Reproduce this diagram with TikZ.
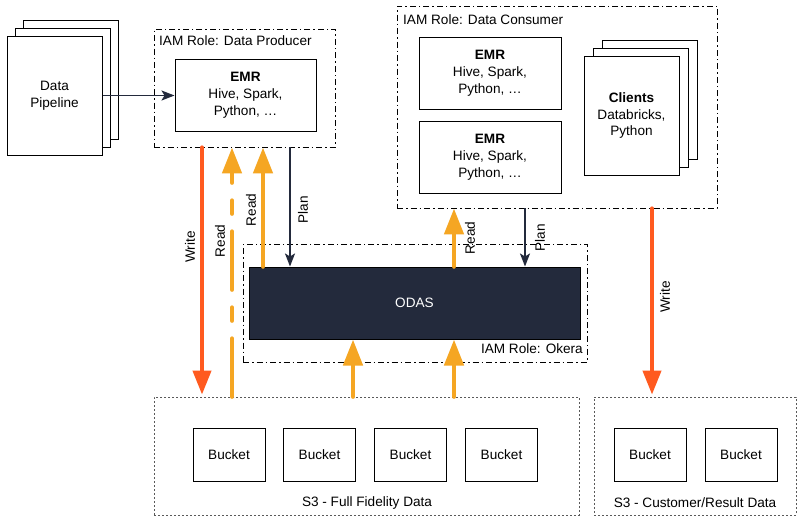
\documentclass[tikz,border=0pt]{standalone}
\usepackage{fontspec}
\setmainfont{Liberation Sans}
\usetikzlibrary{arrows.meta}
\definecolor{navy}{HTML}{232A3C}
\definecolor{wr}{HTML}{FF5A1F}
\definecolor{rd}{HTML}{F5A623}
\begin{document}
\begin{tikzpicture}[x=1pt,y=-1pt,font=\fontsize{13.6}{16.8}\selectfont,
  box/.style={draw=black,line width=1pt,fill=white,align=center,inner sep=0pt},
  iam/.style={draw=black,line width=0.8pt,dash pattern=on 6pt off 3pt on 1.5pt off 3pt},
  s3box/.style={draw=black!65,line width=0.8pt,dash pattern=on 2pt off 2pt},
  writearrow/.style={draw=wr,line width=4pt,line cap=round,-{Triangle[width=18pt,length=24pt]}},
  readarrow/.style={draw=rd,line width=4.5pt,line cap=round,-{Triangle[width=19pt,length=26pt]}},
  darrow/.style={draw=navy,line width=1.7pt,-{Stealth[width=10pt,length=13pt,inset=3pt]}},
  lbl/.style={rotate=90,inner sep=0pt}]
\useasboundingbox (0,0) rectangle (801,522);
\fill[white] (0,0) rectangle (801,522);

% Data pipeline stack
\node[box,minimum width=95pt,minimum height=119pt] (pipe3) at (70.5,79.5) {};
\node[box,minimum width=95pt,minimum height=119pt] (pipe2) at (62.5,87.5) {};
\node[box,minimum width=95pt,minimum height=119pt] (pipe1) at (54.5,95.5) {Data\\Pipeline};

% Producer
\node[iam,minimum width=181pt,minimum height=118pt] (prod) at (244.5,88) {};
\node[anchor=west,inner sep=0pt] (prodlbl) at (159,41) {IAM Role: Data Producer};
\node[box,minimum width=141pt,minimum height=72pt] (emr) at (245.5,95) {\textbf{EMR}\\Hive, Spark,\\Python, \dots};

% Consumer
\node[iam,minimum width=320pt,minimum height=202pt] (cons) at (557,107) {};
\node[anchor=west,inner sep=0pt] (conslbl) at (403,20) {IAM Role: Data Consumer};
\node[box,minimum width=142pt,minimum height=72pt] (emr1) at (490,73) {\textbf{EMR}\\Hive, Spark,\\Python, \dots};
\node[box,minimum width=142pt,minimum height=72pt] (emr2) at (490,157) {\textbf{EMR}\\Hive, Spark,\\Python, \dots};
\node[box,minimum width=95pt,minimum height=119pt] (cli3) at (649.5,99.5) {};
\node[box,minimum width=95pt,minimum height=119pt] (cli2) at (640.5,107.5) {};
\node[box,minimum width=95pt,minimum height=119pt] (cli1) at (631.5,115.5) {\textbf{Clients}\\Databricks,\\Python};

% Okera
\node[iam,minimum width=344pt,minimum height=118pt] (okera) at (415,303) {};
\node[draw=black,fill=navy,line width=1pt,minimum width=331pt,minimum height=72pt,text=white] (odas) at (414.5,303) {ODAS};
\node[anchor=east,inner sep=0pt] (okeralbl) at (583,349) {IAM Role: Okera};

% S3
\node[s3box,minimum width=425pt,minimum height=118pt] (s3full) at (366.5,456) {};
\node[s3box,minimum width=202pt,minimum height=118pt] (s3cust) at (695,456) {};
\node[box,minimum width=72pt,minimum height=53pt] (b1) at (229,454.5) {Bucket};
\node[box,minimum width=72pt,minimum height=53pt] (b2) at (319.5,454.5) {Bucket};
\node[box,minimum width=72pt,minimum height=53pt] (b3) at (410.5,454.5) {Bucket};
\node[box,minimum width=72pt,minimum height=53pt] (b4) at (501.5,454.5) {Bucket};
\node[box,minimum width=72pt,minimum height=53pt] (b5) at (650,455) {Bucket};
\node[box,minimum width=72pt,minimum height=53pt] (b6) at (741,455) {Bucket};
\node[inner sep=0pt] (s3fulllbl) at (367,503) {S3 - Full Fidelity Data};
\node[inner sep=0pt] (s3custlbl) at (695,503) {S3 - Customer/Result Data};

% x positions of connectors
\coordinate (xw1) at (202,0);
\coordinate (xr1) at (232,0);
\coordinate (xr2) at (263,0);
\coordinate (xp1) at (290,0);
\coordinate (xr3) at (454,0);
\coordinate (xp2) at (525,0);
\coordinate (xw2) at (652,0);
\coordinate (xr4) at (353,0);

% connectors
\draw[darrow] (pipe1.east) -- (pipe1.east -| emr.west);
\draw[writearrow] (prod.south -| xw1) -- ([yshift=2pt]s3full.north -| xw1);
\draw[readarrow,dash pattern=on 58pt off 18pt on 13pt off 18pt] (s3full.north -| xr1) -- (prod.south -| xr1);
\draw[readarrow] (odas.north -| xr2) -- (prod.south -| xr2);
\draw[darrow] (prod.south -| xp1) -- (odas.north -| xp1);
\draw[readarrow] (odas.north -| xr3) -- (cons.south -| xr3);
\draw[darrow] (cons.south -| xp2) -- (odas.north -| xp2);
\draw[writearrow] (cons.south -| xw2) -- ([yshift=2pt]s3cust.north -| xw2);
\draw[readarrow] (s3full.north -| xr4) -- (odas.south -| xr4);
\draw[readarrow] (s3full.north -| xr3) -- (odas.south -| xr3);

% labels
\node[lbl] (lw1) at (190,247) {Write};
\node[lbl] (lr1) at (220,241) {Read};
\node[lbl] (lr2) at (251,210) {Read};
\node[lbl] (lp1) at (303,210) {Plan};
\node[lbl] (lr3) at (470,238) {Read};
\node[lbl] (lp2) at (540,238) {Plan};
\node[lbl] (lw2) at (665,297) {Write};
\end{tikzpicture}
\end{document}
